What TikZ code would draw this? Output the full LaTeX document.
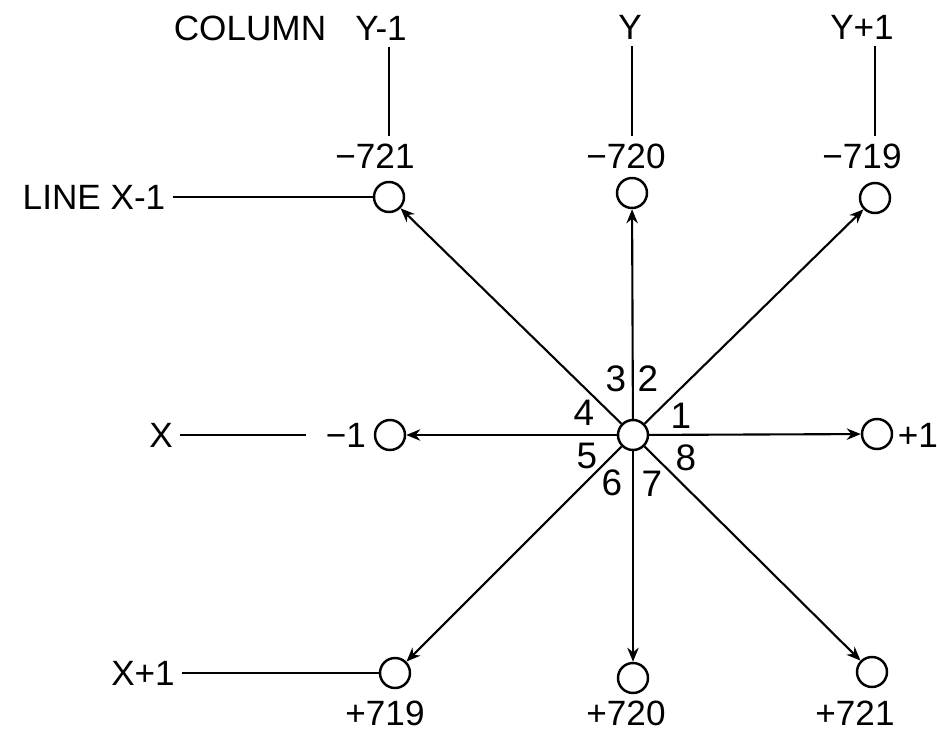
\documentclass[tikz,border=0pt]{standalone}
\usepackage{fontspec}
\setmainfont{Liberation Sans}
\usetikzlibrary{arrows.meta}
\tikzset{
  cell/.style={circle,draw,line width=1.4pt,minimum size=0.6cm,inner sep=0pt},
  lbl/.style={font=\fontsize{20}{24}\selectfont,inner sep=4pt},
  dirn/.style={font=\fontsize{21}{24}\selectfont,inner sep=0pt},
  link/.style={line width=1.2pt,-{Stealth[length=8pt,width=6.5pt]}},
  tie/.style={line width=0.9pt}
}
\begin{document}
\begin{tikzpicture}[x=0.02cm,y=-0.02cm]
  \useasboundingbox (0,0) rectangle (937,734);
  % cells around the centre
  \node[cell] (c)  at (633,435) {};
  \node[cell] (nw) at (389,197) {};
  \node[cell] (n)  at (632,193) {};
  \node[cell] (ne) at (875,198) {};
  \node[cell] (w)  at (390,435) {};
  \node[cell] (e)  at (877,434) {};
  \node[cell] (sw) at (395,673) {};
  \node[cell] (s)  at (633,678) {};
  \node[cell] (se) at (872,672) {};
  \foreach \t in {nw,n,ne,w,e,sw,s,se}
    \draw[link] (c) -- (\t);
  % offsets
  \node[lbl] (onw) at (375,156) {−721};
  \node[lbl] (on)  at (626,156) {−720};
  \node[lbl] (one) at (862,156) {−719};
  \node[lbl] (ow)  at (346,435) {−1};
  \node[lbl] (oe)  at (918,435) {+1};
  \node[lbl] (osw) at (385,713) {+719};
  \node[lbl] (os)  at (626,713) {+720};
  \node[lbl] (ose) at (855,713) {+721};
  % columns and lines
  \node[lbl] at (250,28) {COLUMN};
  \node[lbl] (colm) at (381,28) {Y-1};
  \node[lbl] (col)  at (630,27) {Y};
  \node[lbl] (colp) at (862,27) {Y+1};
  \node[lbl] (linem) at (94,197) {LINE X-1};
  \node[lbl] (line)  at (161,435) {X};
  \node[lbl] (linep) at (143,673) {X+1};
  \draw[tie] (colm.south -| nw) -- (onw.north -| nw);
  \draw[tie] (col.south -| n) -- (on.north -| n);
  \draw[tie] (colp.south -| ne) -- (one.north -| ne);
  \draw[tie] (linem.east) -- (nw.west);
  \draw[tie,shorten >=0.26cm] (line.east) -- (ow.west);
  \draw[tie] (linep.east) -- (sw.west);
  % direction numbers
  \node[dirn] (d1) at (681,416) {1};
  \node[dirn] (d2) at (648,379) {2};
  \node[dirn] (d3) at (616,379) {3};
  \node[dirn] (d4) at (584,413) {4};
  \node[dirn] (d5) at (587,456) {5};
  \node[dirn] (d6) at (612,483) {6};
  \node[dirn] (d7) at (652,484) {7};
  \node[dirn] (d8) at (686,458) {8};
\end{tikzpicture}
\end{document}
